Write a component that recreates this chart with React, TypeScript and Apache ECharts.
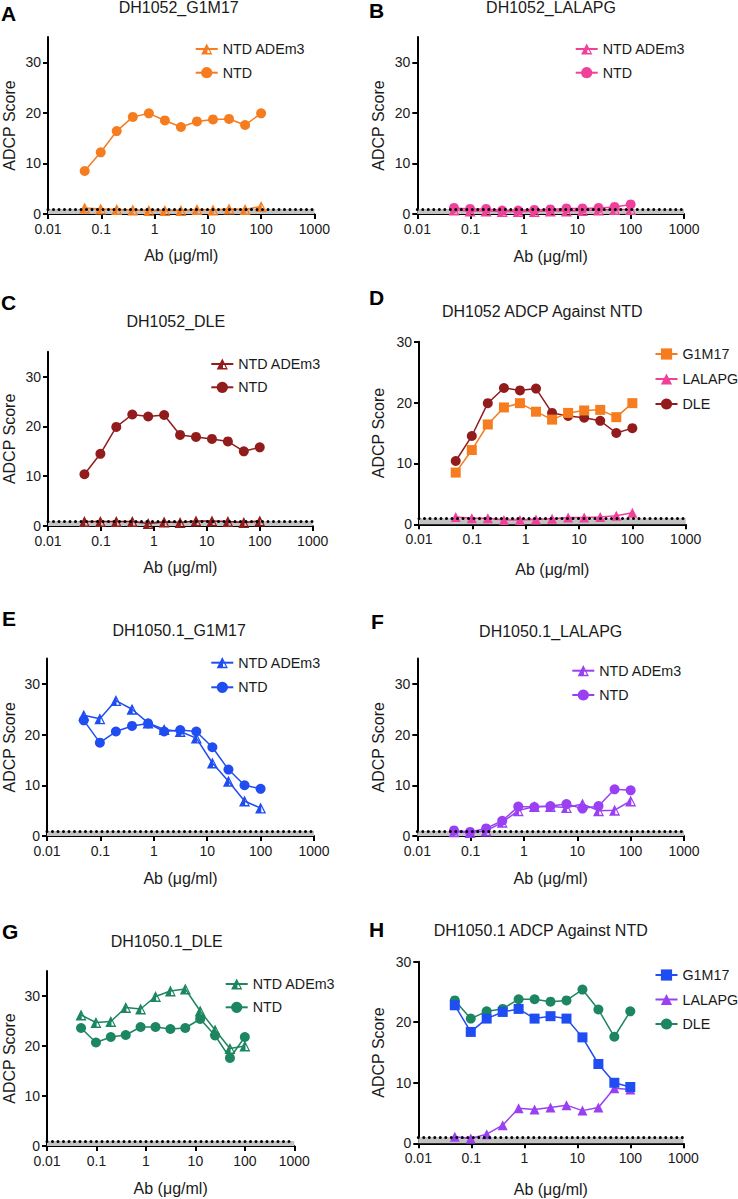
import React, { useEffect, useRef } from "react";
import * as echarts from "echarts";

// ---- data ----
const DOSES = [0.0488, 0.0977, 0.195, 0.391, 0.781, 1.5625, 3.125, 6.25, 12.5, 25, 50, 100];
const X_TICKS = [0.01, 0.1, 1, 10, 100, 1000];
const Y_TICKS = [0, 10, 20, 30];

const A_ADEM3 = [1.2, 1.0, 0.9, 0.8, 0.7, 0.7, 0.7, 0.9, 0.8, 1.0, 0.9, 1.5];
const A_NTD = [8.5, 12.2, 16.4, 19.2, 19.9, 18.5, 17.2, 18.3, 18.7, 18.8, 17.6, 19.9];
const B_ADEM3 = [0.8, 0.6, 0.6, 0.5, 0.5, 0.5, 0.6, 0.6, 0.7, 0.8, 0.9, 0.9];
const B_NTD = [1.2, 1.0, 1.0, 0.7, 0.7, 0.8, 0.9, 1.1, 1.1, 1.2, 1.4, 1.9];
const C_ADEM3 = [0.9, 0.9, 0.9, 0.9, 0.5, 0.8, 0.7, 1.0, 1.0, 0.9, 0.7, 1.0];
const C_NTD = [10.4, 14.5, 19.9, 22.4, 22.0, 22.3, 18.3, 17.9, 17.5, 17.0, 15.0, 15.8];
const D_G1M17 = [8.5, 12.2, 16.4, 19.2, 19.9, 18.5, 17.2, 18.3, 18.7, 18.8, 17.6, 19.9];
const D_LALAPG = [1.2, 1.0, 1.0, 0.7, 0.7, 0.8, 0.9, 1.1, 1.1, 1.2, 1.4, 1.9];
const D_DLE = [10.4, 14.5, 19.9, 22.4, 22.0, 22.3, 18.3, 17.8, 17.5, 17.0, 15.0, 15.8];
const E_ADEM3 = [23.8, 23.1, 26.7, 25.0, 22.3, 21.0, 20.6, 19.3, 14.4, 10.8, 6.9, 5.5];
const E_NTD = [22.8, 18.4, 20.6, 21.7, 22.2, 20.6, 20.9, 20.6, 17.5, 13.1, 10.0, 9.3];
const F_ADEM3 = [0.85, 0.7, 1.0, 2.7, 5.0, 5.8, 5.8, 5.6, 6.3, 5.0, 5.1, 6.9];
const F_NTD = [1.1, 0.8, 1.5, 3.0, 5.8, 5.7, 5.9, 6.3, 5.4, 5.9, 9.2, 9.0];
const G_ADEM3 = [26.2, 24.7, 24.9, 27.7, 27.4, 29.9, 31.0, 31.4, 27.0, 23.2, 19.5, 20.0];
const G_NTD = [23.6, 20.7, 21.8, 22.2, 23.8, 23.8, 23.4, 23.6, 25.4, 22.1, 17.6, 21.8];
const H_G1M17 = [22.8, 18.4, 20.6, 21.7, 22.2, 20.6, 21.0, 20.6, 17.5, 13.1, 10.0, 9.3];
const H_LALAPG = [1.1, 0.8, 1.5, 3.0, 5.8, 5.6, 5.9, 6.3, 5.4, 5.9, 9.1, 8.9];
const H_DLE = [23.6, 20.6, 21.8, 22.2, 23.8, 23.8, 23.4, 23.6, 25.4, 22.1, 17.6, 21.8];

// ---- styles ----
const FONT = '"Liberation Sans", Arial, Helvetica, sans-serif';
const ORANGE = "#F57C1F";
const PINK = "#F0419A";
const DRED = "#921B1B";
const BLUE = "#1F4DF2";
const PURPLE = "#9A40F2";
const GREEN = "#1C8660";
const HALF_TRI = "path://M5,0L10,9L0,9Z M5.6,3.2L5.6,7.8L8.2,7.8Z";

type S = { name: string; data: number[]; color: string; symbol: string; size: number };
type Panel = {
  key: string; title: string; l: number; t: number; w: number; h: number; ymax: number;
  xGap: number; yGap: number; tx: number; ty: number; lx: number; ly: number;
  legX: number; legY: number; legStep: number; series: S[];
};

const PANELS: Panel[] = [
  { key: "A", title: "DH1052_G1M17", l: 47.7, t: 37, w: 266.7, h: 177, ymax: 35, xGap: 33, yGap: 31, tx: 178.7, ty: 7.5, lx: 1, ly: 13.5, legX: 221.7, legY: 49, legStep: 23.7,
    series: [
      { name: "NTD ADEm3", data: A_ADEM3, color: ORANGE, symbol: HALF_TRI, size: 11 },
      { name: "NTD", data: A_NTD, color: ORANGE, symbol: "circle", size: 10 },
    ] },
  { key: "B", title: "DH1052_LALAPG", l: 417.3, t: 37, w: 266.7, h: 177, ymax: 35, xGap: 34, yGap: 31, tx: 551, ty: 7.5, lx: 369, ly: 10.5, legX: 601.7, legY: 49, legStep: 23.7,
    series: [
      { name: "NTD ADEm3", data: B_ADEM3, color: PINK, symbol: HALF_TRI, size: 11 },
      { name: "NTD", data: B_NTD, color: PINK, symbol: "circle", size: 10 },
    ] },
  { key: "C", title: "DH1052_DLE", l: 47.7, t: 351.8, w: 265, h: 174.2, ymax: 35, xGap: 33, yGap: 31, tx: 175.8, ty: 321, lx: 1, ly: 302, legX: 237.3, legY: 364, legStep: 23.3,
    series: [
      { name: "NTD ADEm3", data: C_ADEM3, color: DRED, symbol: HALF_TRI, size: 11 },
      { name: "NTD", data: C_NTD, color: DRED, symbol: "circle", size: 10 },
    ] },
  { key: "D", title: "DH1052 ADCP Against NTD", l: 419, t: 341.7, w: 266.7, h: 182.6, ymax: 30, xGap: 37, yGap: 33, tx: 542.3, ty: 311, lx: 369, ly: 297.5, legX: 681.5, legY: 354, legStep: 25,
    series: [
      { name: "DLE", data: D_DLE, color: DRED, symbol: "circle", size: 10 },
      { name: "LALAPG", data: D_LALAPG, color: PINK, symbol: "triangle", size: 10 },
      { name: "G1M17", data: D_G1M17, color: ORANGE, symbol: "rect", size: 10 },
    ] },
  { key: "E", title: "DH1050.1_G1M17", l: 46.7, t: 658.5, w: 267.3, h: 177.5, ymax: 35, xGap: 34, yGap: 30, tx: 179.2, ty: 630, lx: 2, ly: 618, legX: 237.3, legY: 662.7, legStep: 24.6,
    series: [
      { name: "NTD ADEm3", data: E_ADEM3, color: BLUE, symbol: HALF_TRI, size: 11 },
      { name: "NTD", data: E_NTD, color: BLUE, symbol: "circle", size: 10 },
    ] },
  { key: "F", title: "DH1050.1_LALAPG", l: 417.3, t: 658.5, w: 266.7, h: 177.5, ymax: 35, xGap: 34, yGap: 31, tx: 550.7, ty: 631, lx: 371, ly: 621, legX: 598.3, legY: 670.7, legStep: 24.3,
    series: [
      { name: "NTD ADEm3", data: F_ADEM3, color: PURPLE, symbol: HALF_TRI, size: 11 },
      { name: "NTD", data: F_NTD, color: PURPLE, symbol: "circle", size: 10 },
    ] },
  { key: "G", title: "DH1050.1_DLE", l: 45, t: 971, w: 249.3, h: 175, ymax: 35, xGap: 34, yGap: 30, tx: 166.7, ty: 941.7, lx: 2, ly: 931, legX: 251.7, legY: 984, legStep: 23.3,
    series: [
      { name: "NTD ADEm3", data: G_ADEM3, color: GREEN, symbol: HALF_TRI, size: 11 },
      { name: "NTD", data: G_NTD, color: GREEN, symbol: "circle", size: 10 },
    ] },
  { key: "H", title: "DH1050.1 ADCP Against NTD", l: 418.3, t: 961.7, w: 265, h: 181.6, ymax: 30, xGap: 38, yGap: 32, tx: 540.7, ty: 930.5, lx: 369, ly: 929.5, legX: 681.5, legY: 975, legStep: 24.5,
    series: [
      { name: "DLE", data: H_DLE, color: GREEN, symbol: "circle", size: 10 },
      { name: "LALAPG", data: H_LALAPG, color: PURPLE, symbol: "triangle", size: 10 },
      { name: "G1M17", data: H_G1M17, color: BLUE, symbol: "rect", size: 10 },
    ] },
];

// legend order as in the figure
const LEGEND_ORDER: Record<string, string[]> = {
  two: ["NTD ADEm3", "NTD"],
  three: ["G1M17", "LALAPG", "DLE"],
};

function fmtLog(v: number) {
  const n = Number(v);
  if (n >= 1) return String(Math.round(n));
  return String(parseFloat(n.toPrecision(2)));
}

function buildOption() {
  const grid: any[] = [];
  const xAxis: any[] = [];
  const yAxis: any[] = [];
  const series: any[] = [];
  const legend: any[] = [];
  const graphic: any[] = [];

  PANELS.forEach((p, i) => {
    grid.push({ left: p.l, top: p.t, width: p.w, height: p.h, containLabel: false });
    xAxis.push({
      type: "log", gridIndex: i, logBase: 10, min: 0.01, max: 1000,
      name: "Ab (μg/ml)", nameLocation: "middle", nameGap: p.xGap,
      nameTextStyle: { fontSize: 16, color: "#1a1a1a", fontFamily: FONT },
      axisLine: { show: true, lineStyle: { color: "#000", width: 2 } },
      axisTick: { show: true, length: 5, lineStyle: { color: "#000", width: 2 }, customValues: X_TICKS },
      axisLabel: { fontSize: 14, color: "#1a1a1a", fontFamily: FONT, margin: 8, formatter: fmtLog, customValues: X_TICKS },
      splitLine: { show: false }, minorTick: { show: false }, minorSplitLine: { show: false },
    });
    yAxis.push({
      type: "value", gridIndex: i, min: 0, max: p.ymax, interval: 10,
      name: "ADCP Score", nameLocation: "middle", nameGap: p.yGap,
      nameTextStyle: { fontSize: 16, color: "#1a1a1a", fontFamily: FONT },
      axisLine: { show: true, lineStyle: { color: "#000", width: 2 } },
      axisTick: { show: true, length: 5, lineStyle: { color: "#000", width: 2 }, customValues: Y_TICKS },
      axisLabel: { fontSize: 14, color: "#1a1a1a", fontFamily: FONT, margin: 7, customValues: Y_TICKS },
      splitLine: { show: false },
    });

    p.series.forEach((s, k) => {
      const sr: any = {
        type: "line",
        name: `${p.key}|${s.name}`,
        xAxisIndex: i, yAxisIndex: i,
        data: DOSES.map((d, j) => [d, s.data[j]]),
        symbol: s.symbol, symbolSize: s.size, showSymbol: true,
        itemStyle: { color: s.color, borderWidth: 0 },
        lineStyle: { color: s.color, width: 1.5 },
        emphasis: { disabled: true },
        z: 3 + k,
      };
      if (k === 0) {
        sr.markArea = {
          silent: true,
          itemStyle: { color: "#c2c2c2" },
          data: [[{ yAxis: 0 }, { yAxis: 1 }]],
        };
        sr.markLine = {
          silent: true, symbol: ["none", "none"], label: { show: false },
          lineStyle: { color: "#000", width: 3, type: [0, 5.5], cap: "round" },
          data: [{ yAxis: 1 }],
        };
      }
      series.push(sr);
    });

    const order = p.series.length === 3 ? LEGEND_ORDER.three : LEGEND_ORDER.two;
    legend.push({
      orient: "vertical",
      padding: 0,
      left: p.legX - 27, top: p.legY - 7,
      itemWidth: 22, itemHeight: 14, itemGap: p.legStep - 14,
      selectedMode: false,
      data: order.map((n) => `${p.key}|${n}`),
      formatter: (n: string) => n.split("|")[1],
      textStyle: { fontSize: 14.3, color: "#1a1a1a", fontFamily: FONT, lineHeight: 14 },
    });

    graphic.push({
      type: "text", x: p.tx, y: p.ty,
      style: { text: p.title, fontSize: 16, fontFamily: FONT, fill: "#1a1a1a", align: "center", verticalAlign: "middle", textAlign: "center", textVerticalAlign: "middle" },
    });
    graphic.push({
      type: "text", x: p.lx, y: p.ly,
      style: { text: p.key, fontSize: 21, fontWeight: "bold", fontFamily: FONT, fill: "#000", align: "left", verticalAlign: "middle", textAlign: "left", textVerticalAlign: "middle" },
    });
  });

  return {
    animation: false,
    backgroundColor: "#ffffff",
    textStyle: { fontFamily: FONT },
    grid, xAxis, yAxis, series, legend, graphic,
  };
}

export default function App() {
  const ref = useRef<HTMLDivElement>(null);
  useEffect(() => {
    if (!ref.current) return;
    const chart = echarts.init(ref.current, null, { renderer: "svg", width: 738, height: 1199 });
    chart.setOption(buildOption() as any);
    return () => chart.dispose();
  }, []);
  return <div ref={ref} style={{ position: "absolute", left: 0, top: 0, width: 738, height: 1199 }} />;
}
